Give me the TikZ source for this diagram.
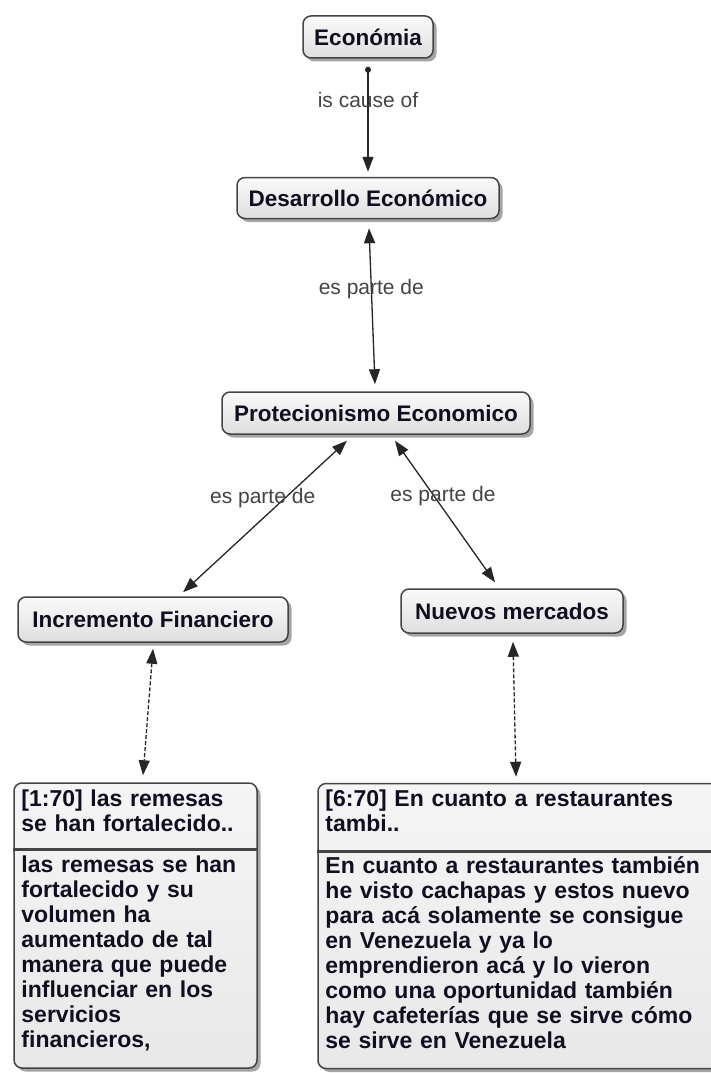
\documentclass[tikz,border=0pt]{standalone}
\usepackage{fontspec}
\setmainfont{Liberation Sans}
\usetikzlibrary{arrows.meta,shadows}

\definecolor{conceptink}{RGB}{15,15,32}
\definecolor{boxline}{RGB}{68,68,68}
\definecolor{labelink}{RGB}{68,68,68}

\tikzset{
  concept/.style={draw=boxline, line width=1.5pt, rounded corners=8pt,
    top color=black!2, bottom color=black!13,
    drop shadow={shadow xshift=3.5pt, shadow yshift=-3.5pt, opacity=0.7},
    inner sep=0pt, minimum height=42pt, text=conceptink,
    font=\fontsize{22.5}{25}\selectfont\bfseries},
  quote/.style={concept, top color=black!4, bottom color=black!9, minimum height=285pt},
  quotetext/.style={inner sep=0pt, text=conceptink, align=left, text width=395pt,
    font=\fontsize{23}{25}\selectfont\bfseries, anchor=base west},
  linklabel/.style={text=labelink, font=\fontsize{21}{24}\selectfont, inner sep=0pt},
  link/.style={draw=black!85, line width=1.3pt, -{Triangle[length=15pt,width=11pt]}},
  twolink/.style={link, {Triangle[length=15pt,width=11pt]}-{Triangle[length=15pt,width=11pt]}},
  dashlink/.style={twolink, dash pattern=on 4pt off 2pt, line width=1.3pt}
}

\begin{document}
\begin{tikzpicture}[x=1pt,y=-1pt]
  \clip (0,0) rectangle (711,1073);
  \fill[white] (0,0) rectangle (711,1073);

  % concepts
  \node[concept, minimum width=130pt] (econ) at (368,37) {Económia};
  \node[concept, minimum width=262pt, minimum height=41pt] (desa) at (368,198) {Desarrollo Económico};
  \node[concept, minimum width=308pt] (prot) at (376,413) {Protecionismo Economico};
  \node[concept, minimum width=270pt, minimum height=45pt] (incr) at (153,619.5) {Incremento Financiero};
  \node[concept, minimum width=222pt, minimum height=44pt] (nuev) at (512,611) {Nuevos mercados};

  % quotations
  \node[quote, minimum width=243pt] (quoA) at (135.5,925.5) {};
  \node[quote, minimum width=402pt] (quoB) at (519,926) {};
  \draw[boxline, line width=3pt] ([yshift=-67pt]quoA.north west) -- ([yshift=-67pt]quoA.north east);
  \draw[boxline, line width=3pt] ([yshift=-69pt]quoB.north west) -- ([yshift=-69pt]quoB.north east);

  \node[quotetext] (quoAhead) at ([xshift=8pt,yshift=-24pt]quoA.north west)
    {[1:70] las remesas\\se han fortalecido..};
  \node[quotetext] (quoAbody) at ([xshift=8pt,yshift=-90pt]quoA.north west)
    {las remesas se han\\fortalecido y su\\volumen ha\\aumentado de tal\\manera que puede\\influenciar en los\\servicios\\financieros,};
  \node[quotetext] (quoBhead) at ([xshift=8pt,yshift=-24pt]quoB.north west)
    {[6:70] En cuanto a restaurantes\\tambi..};
  \node[quotetext] (quoBbody) at ([xshift=8pt,yshift=-91pt]quoB.north west)
    {En cuanto a restaurantes también\\he visto cachapas y estos nuevo\\para acá solamente se consigue\\en Venezuela y ya lo\\emprendieron acá y lo vieron\\como una oportunidad también\\hay cafeterías que se sirve cómo\\se sirve en Venezuela};

  % links
  \draw[link, {Circle[length=6pt]}-{Triangle[length=15pt,width=11pt]}] ([yshift=-8pt]econ.south)
    -- node[linklabel, pos=0.32] {is cause of} ([yshift=5pt]desa.north);
  \draw[twolink] ([xshift=1pt,yshift=-9pt]desa.south)
    -- node[linklabel, pos=0.39] {es parte de} ([xshift=-1pt,yshift=7pt]prot.north);
  \draw[twolink] ([xshift=-29pt,yshift=-6pt]prot.south)
    -- node[linklabel, pos=0.38, xshift=-22pt] {es parte de} ([xshift=30pt,yshift=4pt]incr.north);
  \draw[twolink] ([xshift=19pt,yshift=-6pt]prot.south)
    -- node[linklabel, pos=0.39, xshift=9pt] {es parte de} ([xshift=-17pt,yshift=6pt]nuev.north);
  \draw[dashlink] ([yshift=-6pt]incr.south) -- ([xshift=7.5pt,yshift=7pt]quoA.north);
  \draw[dashlink] ([xshift=1pt,yshift=-8pt]nuev.south) -- ([xshift=-3pt,yshift=6pt]quoB.north);
\end{tikzpicture}
\end{document}
